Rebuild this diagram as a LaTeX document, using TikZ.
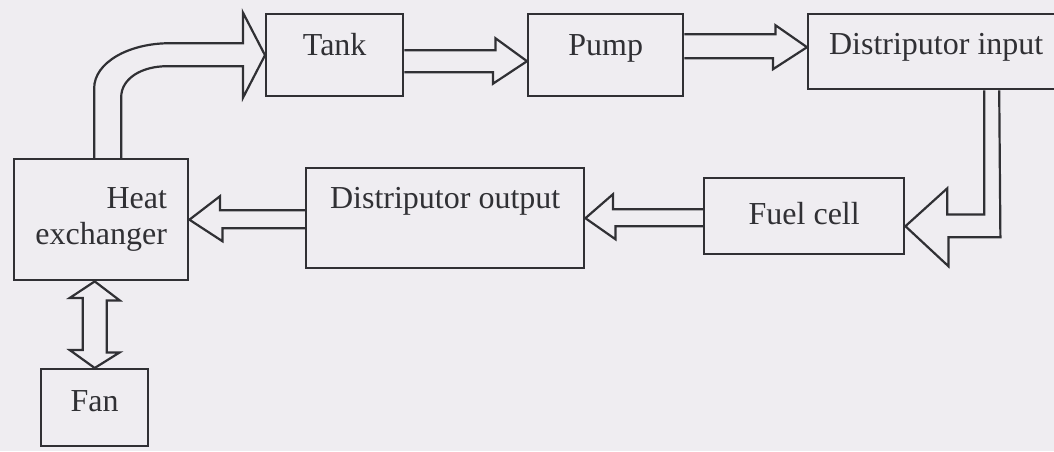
\documentclass[tikz,border=0pt]{standalone}
\usepackage{fontspec}
\setmainfont{Liberation Serif}
\usetikzlibrary{calc}
\definecolor{paper}{RGB}{239,237,241}
\definecolor{ink}{RGB}{48,48,52}
\begin{document}
\begin{tikzpicture}[
      x=0.5pt, y=-0.5pt,
      unit/.style={draw=ink, line width=1.2pt, anchor=north west, inner sep=0pt,
        font=\fontsize{16}{18}\selectfont, text=ink,
        text height=11pt, text depth=11pt},
      fat/.style={draw=ink, line width=1.1pt, line join=miter}
    ]
      \fill[paper] (0,0) rectangle (1054,451);
      \useasboundingbox (0,0) rectangle (1054,451);

      \node[unit, minimum width=87pt, minimum height=60.5pt, align=right,
        text height=, text depth=] (he) at (13,158) {Heat\\exchanger};
      \node[unit, minimum width=68.5pt, minimum height=41pt] (tank) at (265,13) {Tank};
      \node[unit, minimum width=77.5pt, minimum height=41pt] (pump) at (527,13) {Pump};
      \node[unit, minimum width=128pt, minimum height=37.5pt, text depth=8.5pt] (din) at (807,13) {Distriputor input};
      \node[unit, minimum width=139pt, minimum height=50pt, text depth=21pt] (dout) at (305,167) {Distriputor output};
      \node[unit, minimum width=100pt, minimum height=38pt, text depth=3pt] (fuel) at (703,177) {Fuel cell};
      \node[unit, minimum width=53.5pt, minimum height=38.5pt, text depth=7.5pt] (fan) at (40,368) {Fan};

      \draw[fat] ($(he.north)+(-7,0)$) -- ++(0,-70)
        .. controls +(0,-25) and +(-42,0) .. ($(tank.west)+(-95,-12)$)
        -- ($(tank.west)+(-22,-12)$) -- ++(0,-30.5) -- (tank.west) -- ++(-22,42.5) -- ++(0,-31.5)
        -- ++(-76,0) .. controls +(-26,0) and +(0,-18) .. ($(he.north)+(20,-61)$)
        -- ($(he.north)+(20,0)$);
      \draw[fat] ($(tank.east)+(0,-5)$) -- ++(91,0) -- ++(0,-12) -- ($(pump.west)+(0,6)$)
        -- ++(-34,22.5) -- ++(0,-11.5) -- ($(tank.east)+(0,17)$);
      \draw[fat] ($(pump.east)+(0,-21)$) -- ++(91,0) -- ++(0,-9) -- ($(din.west)+(0,-4.5)$)
        -- ++(-34,22) -- ++(0,-11) -- ($(pump.east)+(0,3)$);
      \draw[fat] ($(din.south)+(48,0)$) -- ++(0,124) -- ++(-37,0) -- ++(0,-26) -- ($(fuel.east)+(0,10)$)
        -- ++(43,40) -- ++(0,-29) -- ++(52,0) -- ($(din.south)+(63,0)$);
      \draw[fat] ($(fuel.west)+(0,-7)$) -- ++(-90,0) -- ++(0,-15) -- (dout.east)
        -- ++(30,21) -- ++(0,-13) -- ($(fuel.west)+(0,10)$);
      \draw[fat] ($(dout.west)+(0,-8)$) -- ++(-85,0) -- ++(0,-14) -- (he.east)
        -- ++(33,21.5) -- ++(0,-13) -- ($(dout.west)+(0,10)$);
      \draw[fat] (fan.north |- he.south) -- ++(25,19) -- ++(-13,0) -- ++(0,52) -- ++(13,0)
        -- (fan.north) -- ++(-25,-18) -- ++(13,0) -- ++(0,-52) -- ++(-13,0) -- cycle;
    \end{tikzpicture}
\end{document}
